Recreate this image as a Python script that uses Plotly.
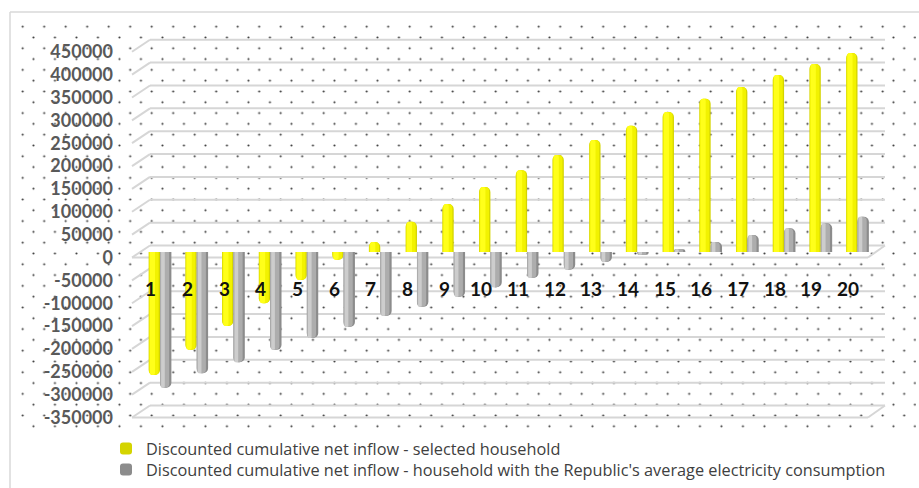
import base64
import plotly.graph_objects as go

# ---- data -------------------------------------------------------------
years = list(range(1, 21))
selected_household = [-269000, -214000, -162000, -112000, -61000, -17000, 22000, 66000,
                      105000, 142000, 179000, 212000, 245000, 276000, 306000, 335000,
                      361000, 387000, 411000, 435000]
average_household = [-297000, -265000, -241000, -214000, -188000, -164000, -140000,
                     -120000, -98000, -77000, -57000, -39000, -22000, -6000, 6000,
                     22000, 37000, 52000, 63000, 77000]
tick_values = list(range(-350000, 450001, 50000))
tick_labels = [str(v) for v in tick_values]
series_names = [
    "Discounted cumulative net inflow - selected household",
    "Discounted cumulative net inflow - household with the Republic's average electricity consumption",
]

# ---- geometry (pixels) ------------------------------------------------
W, H = 919, 488
L, R, T, B = 132, 885, 30, 425          # plot area edges
PX_PER_UNIT = 22.86 / 50000              # vertical scale
CAT0, CAT_STEP = 123.3, 36.71            # category centre = CAT0 + CAT_STEP * year
WALL_DX, WALL_DY = 18, 12                # depth offset of the back wall


def value_range(zero_px):
    return [-(B - zero_px) / PX_PER_UNIT, (zero_px - T) / PX_PER_UNIT]


def px_x(px):
    return (px - L) / (R - L)


def px_y(py):
    return (B - py) / (B - T)


wall_dy_units = WALL_DY / PX_PER_UNIT

# ---- dotted chart-area background as an SVG pattern --------------------
bg_x0, bg_y0, bg_x1, bg_y1 = 18, 20, 916, 428
bw, bh = bg_x1 - bg_x0, bg_y1 - bg_y0
svg = (
    f'<svg xmlns="http://www.w3.org/2000/svg" width="{bw}" height="{bh}" '
    f'viewBox="0 0 {bw} {bh}" preserveAspectRatio="none">'
    '<defs><pattern id="d" x="3.2" y="5.2" width="21.5" height="21.6" '
    'patternUnits="userSpaceOnUse">'
    '<circle cx="1.5" cy="1.5" r="1.05" fill="#3a3a3a"/>'
    '<circle cx="12.25" cy="12.3" r="1.05" fill="#3a3a3a"/>'
    '</pattern></defs>'
    f'<rect width="{bw}" height="{bh}" fill="url(#d)"/></svg>'
)
svg_uri = "data:image/svg+xml;base64," + base64.b64encode(svg.encode()).decode()

fig = go.Figure()

# ---- cylinders: shaded with stacked overlay layers ---------------------
BAR_W = 0.31
yellow_layers = [  # (offset, width, colour)
    (-BAR_W, BAR_W, "#d4d400"),
    (-0.295, 0.26, "#f2f200"),
    (-0.275, 0.14, "#ffff1a"),
]
gray_layers = [
    (0.0, BAR_W, "#8c8c8c"),
    (0.0, 0.25, "#adadad"),
    (0.03, 0.1, "#cdcdcd"),
]

for k, (off, wid, col) in enumerate(yellow_layers):
    fig.add_trace(go.Bar(
        x=years, y=selected_household, yaxis="y2", legend="legend",
        name=series_names[0], legendgroup="sel", showlegend=(k == 0),
        offset=off, width=wid, marker=dict(color=col, cornerradius="50%", line_width=0),
        hoverinfo="skip" if k else None,
    ))
for k, (off, wid, col) in enumerate(gray_layers):
    fig.add_trace(go.Bar(
        x=years, y=average_household, yaxis="y2", legend="legend2",
        name=series_names[1], legendgroup="avg", showlegend=(k == 0),
        offset=off, width=wid, marker=dict(color=col, cornerradius="50%", line_width=0),
        hoverinfo="skip" if k else None,
    ))

# ---- 3-D style walls: back gridlines, diagonals, front edges -----------
grid_line = dict(color="#d6d6d6", width=2)
shapes = []
for v in tick_values:
    shapes.append(dict(type="line", xref="paper", yref="y", layer="below",
                       x0=px_x(L + WALL_DX), x1=1, y0=v + wall_dy_units,
                       y1=v + wall_dy_units, line=grid_line))
    shapes.append(dict(type="line", xref="paper", yref="y", layer="below",
                       x0=0, x1=px_x(L + WALL_DX), y0=v, y1=v + wall_dy_units,
                       line=grid_line))
for v in (0, tick_values[0]):
    shapes.append(dict(type="line", xref="paper", yref="y", layer="below",
                       x0=0, x1=px_x(R - WALL_DX + 1), y0=v, y1=v, line=grid_line))
    shapes.append(dict(type="line", xref="paper", yref="y", layer="below",
                       x0=px_x(R - WALL_DX + 1), x1=1, y0=v, y1=v + wall_dy_units,
                       line=grid_line))
# chart border (top and left edges visible)
border = dict(color="#d9d9d9", width=1.5)
shapes.append(dict(type="line", xref="paper", yref="paper", x0=px_x(10), x1=px_x(W + 5),
                   y0=px_y(12), y1=px_y(12), line=border))
shapes.append(dict(type="line", xref="paper", yref="paper", x0=px_x(10), x1=px_x(10),
                   y0=px_y(12), y1=px_y(H + 5), line=border))

# ---- category labels on the floor -------------------------------------
annotations = [
    dict(x=yr - 9.3 / CAT_STEP, y=px_y(288), xref="x", yref="paper", text=str(yr),
         showarrow=False, font=dict(family="Lato", size=19, color="#111111", weight="bold"))
    for yr in years
]

legend_common = dict(xanchor="left", yanchor="middle", orientation="v",
                     bgcolor="rgba(0,0,0,0)", itemwidth=30,
                     font=dict(family="Open Sans", size=16.3, color="#404040"),
                     itemclick=False, itemdoubleclick=False)

fig.update_layout(
    width=W, height=H,
    margin=dict(l=L, r=W - R, t=T, b=H - B, pad=0, autoexpand=False),
    paper_bgcolor="white", plot_bgcolor="rgba(0,0,0,0)",
    barmode="overlay",
    showlegend=True,
    legend=dict(x=px_x(106), y=px_y(449), **legend_common),
    legend2=dict(x=px_x(106), y=px_y(470), **legend_common),
    xaxis=dict(range=[(L - CAT0) / CAT_STEP, (R - CAT0) / CAT_STEP], visible=False),
    yaxis=dict(range=value_range(257.5), tickvals=tick_values, ticktext=tick_labels,
               showgrid=False, zeroline=False, showline=False, ticks="",
               ticklabelstandoff=18,
               tickfont=dict(family="Lato", size=18, color="#595959", weight="bold")),
    yaxis2=dict(range=value_range(252), overlaying="y", visible=False),
    images=[dict(source=svg_uri, xref="paper", yref="paper",
                 x=px_x(bg_x0), y=px_y(bg_y0), sizex=bw / (R - L), sizey=bh / (B - T),
                 xanchor="left", yanchor="top", sizing="stretch", layer="below")],
    shapes=shapes,
    annotations=annotations,
    hovermode="closest",
)

fig.write_html("out.html", config={"displayModeBar": False})
